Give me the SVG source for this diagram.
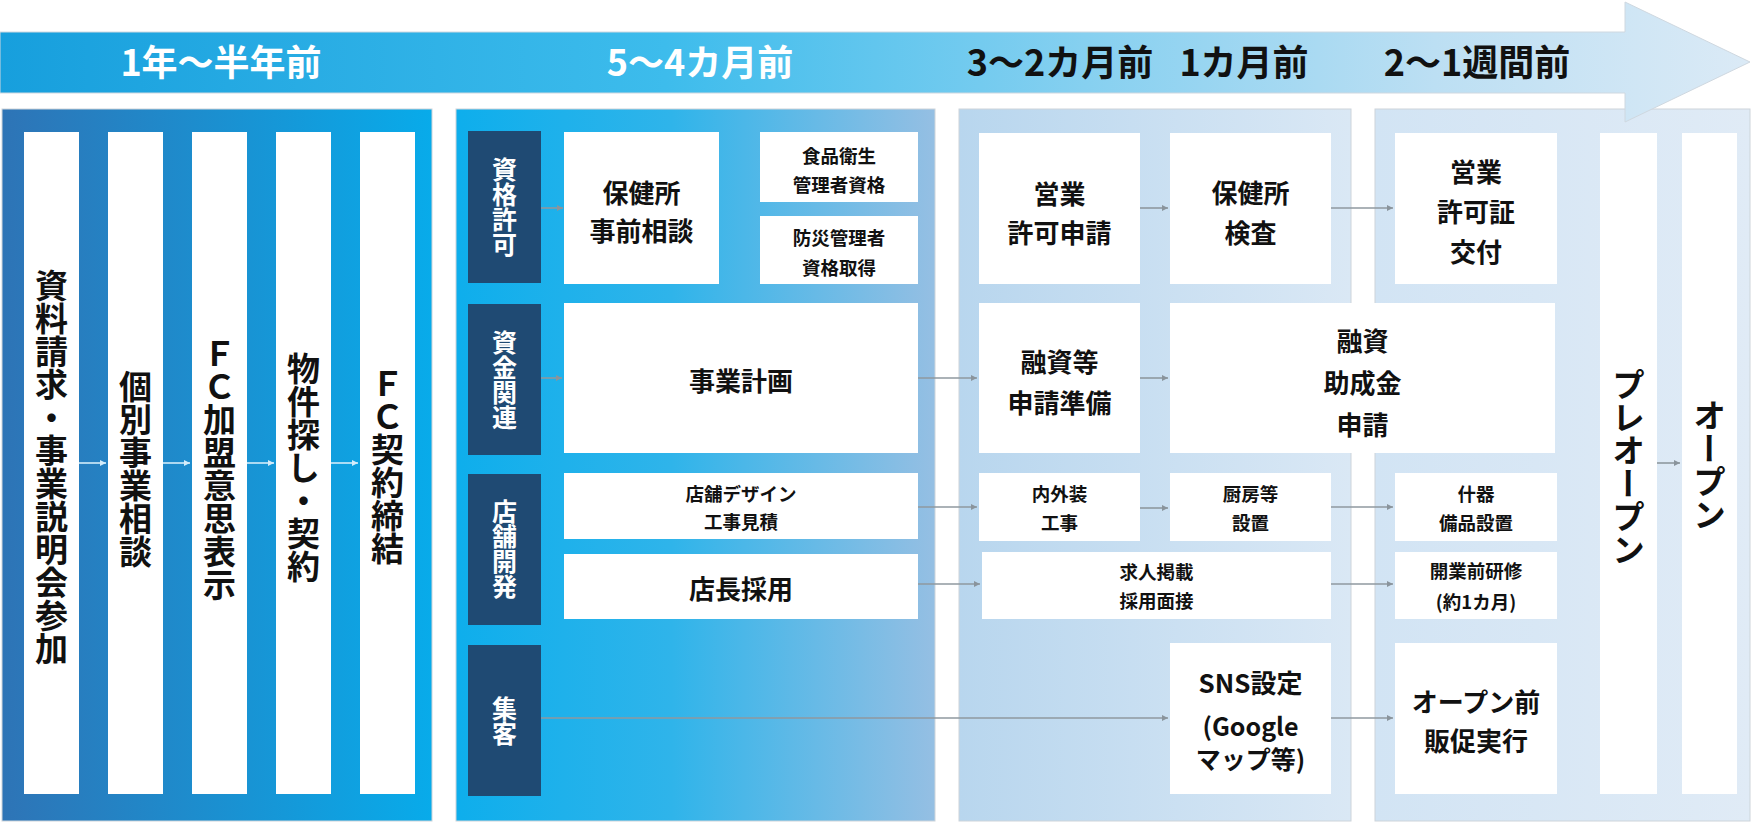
<svg xmlns="http://www.w3.org/2000/svg" width="1755" height="823" viewBox="0 0 1755 823">
<defs>
<linearGradient id="gBanner" gradientUnits="userSpaceOnUse" x1="0" y1="0" x2="1750" y2="0">
<stop offset="0" stop-color="#179fdd"/>
<stop offset="0.38" stop-color="#3dbcec"/>
<stop offset="0.62" stop-color="#86d0f0"/>
<stop offset="0.82" stop-color="#bcdff3"/>
<stop offset="1" stop-color="#dbeaf6"/>
</linearGradient>
<linearGradient id="gP1" x1="0" y1="0" x2="1" y2="0">
<stop offset="0" stop-color="#2e74b6"/>
<stop offset="1" stop-color="#08abea"/>
</linearGradient>
<linearGradient id="gP2" x1="0" y1="0" x2="1" y2="0">
<stop offset="0" stop-color="#0eaeec"/>
<stop offset="0.45" stop-color="#2fb4ea"/>
<stop offset="1" stop-color="#95bfe3"/>
</linearGradient>
<linearGradient id="gP3" x1="0" y1="0" x2="1" y2="0">
<stop offset="0" stop-color="#b8d6ee"/>
<stop offset="1" stop-color="#dae8f5"/>
</linearGradient>
<linearGradient id="gP4" x1="0" y1="0" x2="1" y2="0">
<stop offset="0" stop-color="#d2e4f4"/>
<stop offset="1" stop-color="#e0ebf6"/>
</linearGradient>
<marker id="ah" markerWidth="8" markerHeight="8" refX="6" refY="3" orient="auto" markerUnits="userSpaceOnUse">
<path d="M0,0 L6,3 L0,6 Z" fill="#8a949c"/>
</marker>
<marker id="ahL" markerWidth="8" markerHeight="8" refX="6" refY="3" orient="auto" markerUnits="userSpaceOnUse">
<path d="M0,0 L6,3 L0,6 Z" fill="#d4ecfa"/>
</marker>
</defs>
<style>
.t{font-family:"Noto Sans CJK JP","Noto Sans CJK SC",sans-serif;font-weight:700;text-anchor:middle;dominant-baseline:central;fill:#111}
.v{writing-mode:vertical-rl}
.h{font-size:36px}
.w{fill:#fff}
.c{font-size:33px}
.l{font-size:25px;fill:#fff}
.b{font-size:26px}
.g{font-size:25px}
.s{font-size:18.5px}
.box{fill:#fff}
.lab{fill:#1f4a73}
.pan{stroke:#cdd4da;stroke-width:1}
.cn{stroke:#8f989f;stroke-width:1.6;fill:none;marker-end:url(#ah)}
.cnL{stroke:#d4ecfa;stroke-width:1.6;fill:none;marker-end:url(#ahL)}
</style>

<g id="panels">
<rect id="panel-1" class="pan" x="2" y="109" width="430" height="712" fill="url(#gP1)"/>
<rect id="panel-2" class="pan" x="456" y="109" width="479" height="712" fill="url(#gP2)"/>
<rect id="panel-3" class="pan" x="959" y="109" width="392" height="712" fill="url(#gP3)"/>
<rect id="panel-4" class="pan" x="1375" y="109" width="375" height="712" fill="url(#gP4)"/>
</g>

<g id="banner">
<polygon points="0,32 1625,32 1625,2 1750,62 1625,122 1625,93 0,93" fill="url(#gBanner)" stroke="#cfd8e0" stroke-width="1"/>
<text class="t h w" x="221" y="60">1年〜半年前</text>
<text class="t h w" x="700" y="60">5〜4カ月前</text>
<text class="t h" x="1060" y="60">3〜2カ月前</text>
<text class="t h" x="1244" y="60">1カ月前</text>
<text class="t h" x="1477" y="60">2〜1週間前</text>
</g>

<g id="connectors">
<line class="cnL" x1="79" y1="463" x2="106" y2="463"/>
<line class="cnL" x1="163" y1="463" x2="190" y2="463"/>
<line class="cnL" x1="247" y1="463" x2="274" y2="463"/>
<line class="cnL" x1="331" y1="463" x2="358" y2="463"/>
<line class="cn" x1="541" y1="208" x2="563" y2="208"/>
<line class="cn" x1="541" y1="378" x2="562" y2="378"/>
<line class="cn" x1="541" y1="718" x2="1168" y2="718"/>
<line class="cn" x1="918" y1="378" x2="977" y2="378"/>
<line class="cn" x1="1140" y1="378" x2="1168" y2="378"/>
<line class="cn" x1="1140" y1="208" x2="1168" y2="208"/>
<line class="cn" x1="1331" y1="208" x2="1393" y2="208"/>
<line class="cn" x1="918" y1="507" x2="977" y2="507"/>
<line class="cn" x1="1140" y1="508" x2="1168" y2="508"/>
<line class="cn" x1="1331" y1="507" x2="1393" y2="507"/>
<line class="cn" x1="918" y1="584" x2="980" y2="584"/>
<line class="cn" x1="1331" y1="584" x2="1393" y2="584"/>
<line class="cn" x1="1331" y1="718" x2="1393" y2="718"/>
<line class="cn" x1="1657" y1="463" x2="1680" y2="463"/>
</g>

<g id="n-shiryo"><rect class="box" x="24" y="132" width="55" height="662"/><text class="t c v" x="51.5" y="467">資料請求・事業説明会参加</text></g>
<g id="n-kobetsu"><rect class="box" x="108" y="132" width="55" height="662"/><text class="t c v" x="135.5" y="469">個別事業相談</text></g>
<g id="n-fc-kamei"><rect class="box" x="192" y="132" width="55" height="662"/><text class="t c v" x="219.5" y="469">ＦＣ加盟意思表示</text></g>
<g id="n-bukken"><rect class="box" x="276" y="132" width="55" height="662"/><text class="t c v" x="303.5" y="467">物件探し・契約</text></g>
<g id="n-fc-keiyaku"><rect class="box" x="360" y="132" width="55" height="662"/><text class="t c v" x="387.5" y="466">ＦＣ契約締結</text></g>

<g id="lab-shikaku"><rect class="lab" x="468" y="131" width="73" height="152"/><text class="t l v" x="504.5" y="207">資格許可</text></g>
<g id="lab-shikin"><rect class="lab" x="468" y="304" width="73" height="151"/><text class="t l v" x="504.5" y="380">資金関連</text></g>
<g id="lab-tenpo"><rect class="lab" x="468" y="474" width="73" height="151"/><text class="t l v" x="504.5" y="549">店舗開発</text></g>
<g id="lab-shukyaku"><rect class="lab" x="468" y="645" width="73" height="151"/><text class="t l v" x="504.5" y="721">集客</text></g>

<g id="n-hokenjo-jizen"><rect class="box" x="564" y="132" width="155" height="152"/><text class="t b" x="641.5" y="191">保健所</text><text class="t b" x="641.5" y="229">事前相談</text></g>
<g id="n-shokuhin"><rect class="box" x="760" y="132" width="158" height="70"/><text class="t s" x="839" y="155">食品衛生</text><text class="t s" x="839" y="184">管理者資格</text></g>
<g id="n-bousai"><rect class="box" x="760" y="216" width="158" height="68"/><text class="t s" x="839" y="237">防災管理者</text><text class="t s" x="839" y="267">資格取得</text></g>
<g id="n-jigyou"><rect class="box" x="564" y="303" width="354" height="150"/><text class="t b" x="741" y="379">事業計画</text></g>
<g id="n-design"><rect class="box" x="564" y="473" width="354" height="66"/><text class="t s" x="741" y="493">店舗デザイン</text><text class="t s" x="741" y="521">工事見積</text></g>
<g id="n-tenchou"><rect class="box" x="564" y="554" width="354" height="65"/><text class="t b" x="741" y="587">店長採用</text></g>

<g id="n-eigyou-shinsei"><rect class="box" x="979" y="133" width="161" height="151"/><text class="t b" x="1059.5" y="192">営業</text><text class="t b" x="1059.5" y="231">許可申請</text></g>
<g id="n-hokenjo-kensa"><rect class="box" x="1170" y="133" width="161" height="151"/><text class="t b" x="1250.5" y="191">保健所</text><text class="t b" x="1250.5" y="231">検査</text></g>
<g id="n-yuushi-junbi"><rect class="box" x="979" y="303" width="161" height="150"/><text class="t b" x="1059.5" y="360">融資等</text><text class="t b" x="1059.5" y="401">申請準備</text></g>
<g id="n-yuushi"><rect class="box" x="1170" y="303" width="385" height="150"/><text class="t b" x="1362.5" y="339">融資</text><text class="t b" x="1362.5" y="381">助成金</text><text class="t b" x="1362.5" y="423">申請</text></g>
<g id="n-naigai"><rect class="box" x="979" y="473" width="161" height="68"/><text class="t s" x="1059.5" y="493">内外装</text><text class="t s" x="1059.5" y="522">工事</text></g>
<g id="n-chubou"><rect class="box" x="1170" y="473" width="161" height="68"/><text class="t s" x="1250.5" y="493">厨房等</text><text class="t s" x="1250.5" y="522">設置</text></g>
<g id="n-kyujin"><rect class="box" x="982" y="552" width="349" height="67"/><text class="t s" x="1156.5" y="571">求人掲載</text><text class="t s" x="1156.5" y="600">採用面接</text></g>
<g id="n-sns"><rect class="box" x="1170" y="643" width="161" height="151"/><text class="t b" x="1250.5" y="681">SNS設定</text><text class="t g" x="1250.5" y="725">(Google</text><text class="t g" x="1250.5" y="758">マップ等)</text></g>

<g id="n-kyokasho"><rect class="box" x="1395" y="133" width="162" height="151"/><text class="t b" x="1476" y="170">営業</text><text class="t b" x="1476" y="210">許可証</text><text class="t b" x="1476" y="250">交付</text></g>
<g id="n-juuki"><rect class="box" x="1395" y="473" width="162" height="68"/><text class="t s" x="1476" y="493">什器</text><text class="t s" x="1476" y="522">備品設置</text></g>
<g id="n-kenshu"><rect class="box" x="1395" y="552" width="162" height="67"/><text class="t s" x="1476" y="570">開業前研修</text><text class="t s" x="1476" y="601">(約1カ月)</text></g>
<g id="n-hansoku"><rect class="box" x="1395" y="643" width="162" height="151"/><text class="t b" x="1476" y="700">オープン前</text><text class="t b" x="1476" y="739">販促実行</text></g>
<g id="n-preopen"><rect class="box" x="1600" y="133" width="57" height="661"/><text class="t c v" x="1628.5" y="467">プレオープン</text></g>
<g id="n-open"><rect class="box" x="1682" y="133" width="55" height="661"/><text class="t c v" x="1709.5" y="465">オープン</text></g>
</svg>
